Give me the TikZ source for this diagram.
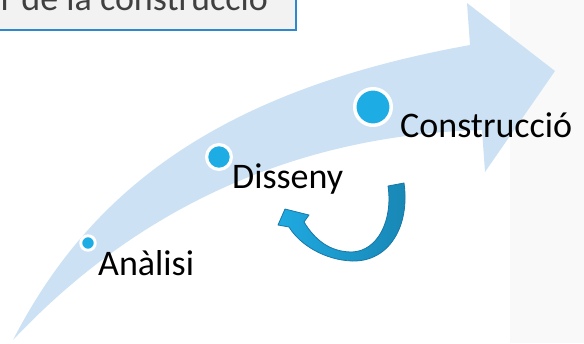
\documentclass[tikz,border=0pt]{standalone}
\usepackage{fontspec}
\setmainfont{Carlito}
\definecolor{arrowbg}{RGB}{204,226,244}
\definecolor{dotblue}{RGB}{29,172,227}
\definecolor{panelgray}{RGB}{249,249,249}
\definecolor{boxgray}{RGB}{242,242,242}
\definecolor{boxblue}{RGB}{46,136,206}
\definecolor{titlegray}{RGB}{64,64,64}
\definecolor{curvelight}{RGB}{31,170,225}
\definecolor{curvedark}{RGB}{24,134,180}
\definecolor{curveline}{RGB}{24,120,168}
\begin{document}
\begin{tikzpicture}[x=1pt,y=-1pt,
  stage/.style={anchor=base west, inner sep=0pt, font=\fontsize{36}{43}\selectfont},
  dot/.style={circle, fill=dotblue, draw=white, inner sep=0pt},
  titletext/.style={anchor=base east, inner sep=0pt, text=titlegray, font=\fontsize{36}{43}\selectfont},
  titlebox/.style={draw=boxblue, line width=2pt, fill=boxgray},
  bigarrow/.style={fill=arrowbg},
  cyclearrow/.style={draw=curveline, line width=0.8pt, left color=curvelight, right color=curvedark, line join=round}
]
\useasboundingbox (0,0) rectangle (584,343);
\clip (0,0) rectangle (584,343);
% right panel
\fill[panelgray] (510,0) rectangle (584,343);
% big curved arrow
\path[bigarrow] (13,340) .. controls (90,190) and (220,90) .. (470,45)
  -- (467,3) -- (555,71) -- (485,172) -- (482,130)
  .. controls (300,135) and (140,205) .. (13,340) -- cycle;
% title box
\path[titlebox] (-20,-20) rectangle (295.5,29.5);
\node[titletext] (title) at (268,10) {r de la construcció};
% stages
\node[dot, minimum size=14.5pt, line width=2.9pt] (d1) at (88,243) {};
\node[stage] (t1) at (98,275) {Anàlisi};
\node[dot, minimum size=24.8pt, line width=3.2pt] (d2) at (219,157) {};
\node[stage] (t2) at (232,188) {Disseny};
\node[dot, minimum size=36.5pt, line width=3.5pt] (d3) at (373,107) {};
\node[stage] (t3) at (400,137) {Construcció};
% small cycle arrow
\path[cyclearrow]
  (404,183) .. controls (410,225) and (390,262) .. (352,261)
  .. controls (325,260) and (300,245) .. (289,227)
  -- (278,225) -- (285,209) -- (309,215) -- (304,222)
  .. controls (315,240) and (330,252) .. (352,252)
  .. controls (378,251) and (393,220) .. (388,186) -- cycle;
\end{tikzpicture}
\end{document}
